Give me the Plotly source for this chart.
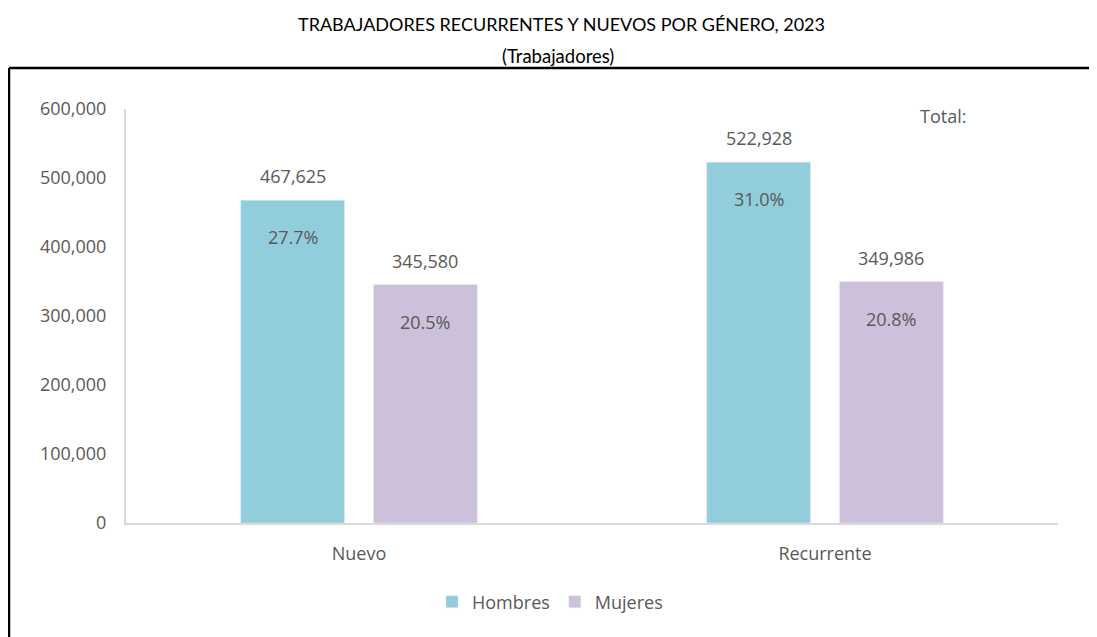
import plotly.graph_objects as go

categories = ["Nuevo", "Recurrente"]
hombres = [467625, 522928]
mujeres = [345580, 349986]
hombres_pct = ["27.7%", "31.0%"]
mujeres_pct = ["20.5%", "20.8%"]
y_ticks = [0, 100000, 200000, 300000, 400000, 500000, 600000]
y_tick_labels = ["0", "100,000", "200,000", "300,000", "400,000", "500,000", "600,000"]

C_H = "#92CDDC"
C_M = "#CCC0DA"
GREY = "#595959"
FONT = "Open Sans"
FS = 18

# page body has an 8px margin, so figure coords = screen coords - 8
OFF = 8
W, H = 1097, 637
L, T = 126 - OFF, 109 - OFF
R = W - (1058 - OFF)
B = H - (523 - OFF)
pw, ph = W - L - R, H - T - B

def px(x):
    return (x - OFF - L) / pw

def py(y):
    return (H - B - (y - OFF)) / ph

fig = go.Figure()
fig.add_trace(go.Bar(name="Hombres", x=categories, y=hombres, marker_color=C_H,
                     hoverinfo="skip"))
fig.add_trace(go.Bar(name="Mujeres", x=categories, y=mujeres, marker_color=C_M,
                     hoverinfo="skip"))

ann = []
for i, c in enumerate(categories):
    for vals, pcts, shift in ((hombres, hombres_pct, -66), (mujeres, mujeres_pct, 66)):
        ann.append(dict(x=c, y=vals[i], xref="x", yref="y", text=f"{vals[i]:,}",
                        showarrow=False, xshift=shift, yshift=24, yanchor="middle",
                        font=dict(family=FONT, size=FS, color=GREY)))
        ann.append(dict(x=c, y=vals[i], xref="x", yref="y", text=pcts[i],
                        showarrow=False, xshift=shift, yshift=-37, yanchor="middle",
                        font=dict(family=FONT, size=FS, color=GREY)))

ann.append(dict(x=px(561), y=py(24), xref="paper", yref="paper",
                text="TRABAJADORES RECURRENTES Y NUEVOS POR GÉNERO, 2023",
                showarrow=False, yanchor="middle", xanchor="center",
                font=dict(family="Lato", size=18, color="#000000")))
ann.append(dict(x=px(558), y=py(56), xref="paper", yref="paper",
                text="(Trabajadores)", showarrow=False, yanchor="middle", xanchor="center",
                font=dict(family="Lato", size=18.5, color="#000000")))
ann.append(dict(x=px(943), y=py(116), xref="paper", yref="paper",
                text="Total:", showarrow=False, yanchor="middle", xanchor="center",
                font=dict(family=FONT, size=FS, color=GREY)))

shapes = [
    dict(type="line", xref="paper", yref="paper", x0=px(9), x1=px(1110),
         y0=py(68), y1=py(68), line=dict(color="black", width=2.5)),
    dict(type="line", xref="paper", yref="paper", x0=px(9), x1=px(9),
         y0=py(68), y1=py(660), line=dict(color="black", width=2.5)),
]

fig.update_layout(
    width=W, height=H,
    margin=dict(l=L, r=R, t=T, b=B),
    plot_bgcolor="white", paper_bgcolor="white",
    barmode="group", bargap=0.43, bargroupgap=0.218,
    font=dict(family=FONT, color=GREY),
    annotations=ann, shapes=shapes,
    showlegend=True,
    legend=dict(orientation="h", x=px(550), xanchor="center", y=py(602), yanchor="middle",
                font=dict(family=FONT, size=FS, color=GREY), itemwidth=30,
                traceorder="normal"),
    xaxis=dict(showgrid=False, showline=True, linecolor="#D9D9D9", linewidth=2,
               ticks="", tickfont=dict(family=FONT, size=FS, color=GREY),
               ticklabelstandoff=13, fixedrange=True),
    yaxis=dict(range=[0, 600000], tickvals=y_ticks, ticktext=y_tick_labels,
               showgrid=False, showline=True, linecolor="#D9D9D9", linewidth=2,
               ticks="", zeroline=False,
               tickfont=dict(family=FONT, size=FS, color=GREY),
               ticklabelstandoff=14, fixedrange=True),
)

fig.write_html("out.html")
